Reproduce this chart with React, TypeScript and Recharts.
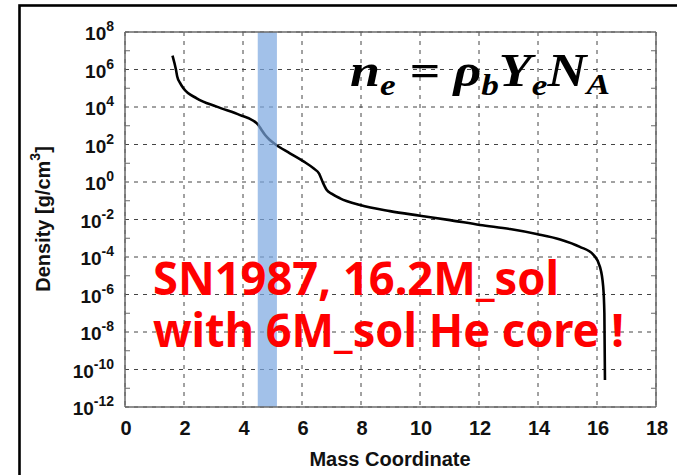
import React from 'react';
import {
  LineChart, Line, XAxis, YAxis, CartesianGrid, ReferenceArea,
} from 'recharts';

// ---- data ----
const massCoord = [1.61, 1.73, 1.77, 1.86, 1.98, 2.43, 3.11, 3.9, 4.35, 4.52, 4.62, 4.75, 4.9, 5.08, 5.59, 6.05, 6.4, 6.58, 6.7, 6.84, 7.0, 7.29, 7.97, 8.98, 10.0, 11.02, 12.03, 13.05, 13.95, 14.75, 15.42, 15.88, 16.1, 16.21, 16.25, 16.27];
const density = [5.5e6, 9.3e5, 4.2e5, 2.0e5, 1.0e5, 2.9e4, 1.05e4, 3.7e3, 1.86e3, 1.1e3, 6.3e2, 3.2e2, 1.8e2, 1.07e2, 34, 12.6, 5.2, 2.8, 1.0, 0.37, 0.24, 0.135, 0.059, 0.028, 0.016, 0.0093, 0.0051, 0.0031, 0.0017, 8.7e-4, 3.5e-4, 1.3e-4, 3.0e-5, 2.6e-6, 1e-7, 2.75e-11];

const xTicks = [0, 2, 4, 6, 8, 10, 12, 14, 16, 18];
const yMajorTicks = [1e-12, 1e-10, 1e-8, 1e-6, 1e-4, 1e-2, 1e0, 1e2, 1e4, 1e6, 1e8];
const yMinorTicks = [1e-11, 1e-9, 1e-7, 1e-5, 1e-3, 1e-1, 1e1, 1e3, 1e5, 1e7];
const bandStart = 4.5;
const bandEnd = 5.15;

const xLabel = 'Mass Coordinate';
const yLabel = 'Density [g/cm';
const yLabelSup = '3';
const noteLine1 = 'SN1987, 16.2M_sol';
const noteLine2 = 'with 6M_sol He core !';

const chartData = massCoord.map((m, i) => ({ m, rho: density[i] }));

const AXIS_FONT = '"Liberation Sans", Arial, Helvetica, sans-serif';
const BORDER = '#6a6a6a';

const XTick = (p: any) => (
  <text x={p.x + 1} y={p.y + 28} textAnchor="middle" fontFamily={AXIS_FONT} fontWeight="bold" fontSize={20} fill="#111">
    {p.payload.value}
  </text>
);

const YTick = (p: any) => {
  const exp = Math.round(Math.log10(p.payload.value));
  return (
    <text x={p.x - 11} y={p.y + 8} textAnchor="end" fontFamily={AXIS_FONT} fontWeight="bold" fill="#111">
      <tspan fontSize={19}>10</tspan>
      <tspan fontSize={14} dy={-9}>{String(exp)}</tspan>
    </text>
  );
};

const MinorLeftTick = (p: any) => (
  <line x1={p.x} x2={p.x + 5} y1={p.y} y2={p.y} stroke={BORDER} strokeWidth={1} />
);
const MinorRightTick = (p: any) => (
  <line x1={p.x - 5} x2={p.x} y1={p.y} y2={p.y} stroke={BORDER} strokeWidth={1} />
);

export default function App() {
  return (
    <div style={{ position: 'absolute', left: 0, top: 0, width: 677, height: 475, background: '#fff' }}>
      <LineChart width={677} height={475} data={chartData} margin={{ top: 32, right: 21, bottom: 0, left: 0 }}>
        <CartesianGrid yAxisId="main" stroke="#444" strokeWidth={1} strokeDasharray="4 5" />
        <XAxis
          dataKey="m" type="number" domain={[0, 18]} ticks={xTicks} allowDataOverflow
          height={68} tickSize={0} tickMargin={0} tickLine={false}
          axisLine={{ stroke: BORDER, strokeWidth: 1.5 }} tick={<XTick />} interval={0}
        />
        <XAxis
          xAxisId="top" orientation="top" mirror type="number" domain={[0, 18]} ticks={xTicks}
          tick={false} tickLine={false} axisLine={{ stroke: BORDER, strokeWidth: 1.5 }}
        />
        <YAxis
          yAxisId="main" type="number" scale="log" domain={[1e-12, 1e8]} allowDataOverflow
          ticks={yMajorTicks} interval={0} width={125} tickSize={0} tickMargin={0} tickLine={false}
          axisLine={{ stroke: BORDER, strokeWidth: 1.5 }} tick={<YTick />}
        />
        <YAxis
          yAxisId="minorL" mirror type="number" scale="log" domain={[1e-12, 1e8]} allowDataOverflow
          ticks={yMinorTicks} interval={0} tickSize={0} tickMargin={0} tickLine={false}
          axisLine={false} tick={<MinorLeftTick />}
        />
        <YAxis
          yAxisId="minorR" orientation="right" mirror type="number" scale="log" domain={[1e-12, 1e8]} allowDataOverflow
          ticks={yMinorTicks} interval={0} tickSize={0} tickMargin={0} tickLine={false}
          axisLine={{ stroke: BORDER, strokeWidth: 1.5 }} tick={<MinorRightTick />}
        />
        <Line
          yAxisId="main" dataKey="rho" type="monotone" stroke="#000" strokeWidth={2.6}
          dot={false} activeDot={false} isAnimationActive={false}
        />
        <ReferenceArea
          yAxisId="main" x1={bandStart} x2={bandEnd} y1={1e-12} y2={1e8}
          fill="#7aa7df" fillOpacity={0.7} stroke="none" ifOverflow="hidden" zIndex={450}
        />
      </LineChart>
      <svg width={677} height={475} style={{ position: 'absolute', left: 0, top: 0, pointerEvents: 'none' }}>
        <rect x={19.5} y={5.5} width={700} height={500} fill="none" stroke="#000" strokeWidth={2.6} />
        <text x={390} y={466} textAnchor="middle" fontFamily={AXIS_FONT} fontWeight="bold" fontSize={20} fill="#111">
          {xLabel}
        </text>
        <text transform="translate(50,219) rotate(-90)" textAnchor="middle" fontFamily={AXIS_FONT} fontWeight="bold" fontSize={20} fill="#111">
          <tspan>{yLabel}</tspan>
          <tspan fontSize={14} dy={-10}>{yLabelSup}</tspan>
          <tspan dy={10}>]</tspan>
        </text>
        <text x={350} y={86} fontFamily='"Liberation Serif", "DejaVu Serif", serif' fontStyle="italic" fontWeight="bold" fontSize={46} fill="#000" textLength={260} lengthAdjust="spacingAndGlyphs">
          <tspan>n</tspan>
          <tspan fontSize={30} dy={9}>e</tspan>
          <tspan dy={-9}> = ρ</tspan>
          <tspan fontSize={30} dy={9}>b</tspan>
          <tspan dy={-9}>Y</tspan>
          <tspan fontSize={30} dy={9}>e</tspan>
          <tspan dy={-9}>N</tspan>
          <tspan fontSize={30} dy={8}>A</tspan>
        </text>
        <text x={153} y={295} fontFamily='"Noto Sans", "Open Sans", sans-serif' fontWeight="bold" fontSize={46} fill="#ff0000" textLength={406} lengthAdjust="spacingAndGlyphs">
          {noteLine1}
        </text>
        <text x={153} y={347} fontFamily='"Noto Sans", "Open Sans", sans-serif' fontWeight="bold" fontSize={46} fill="#ff0000" textLength={471} lengthAdjust="spacingAndGlyphs">
          {noteLine2}
        </text>
      </svg>
    </div>
  );
}
